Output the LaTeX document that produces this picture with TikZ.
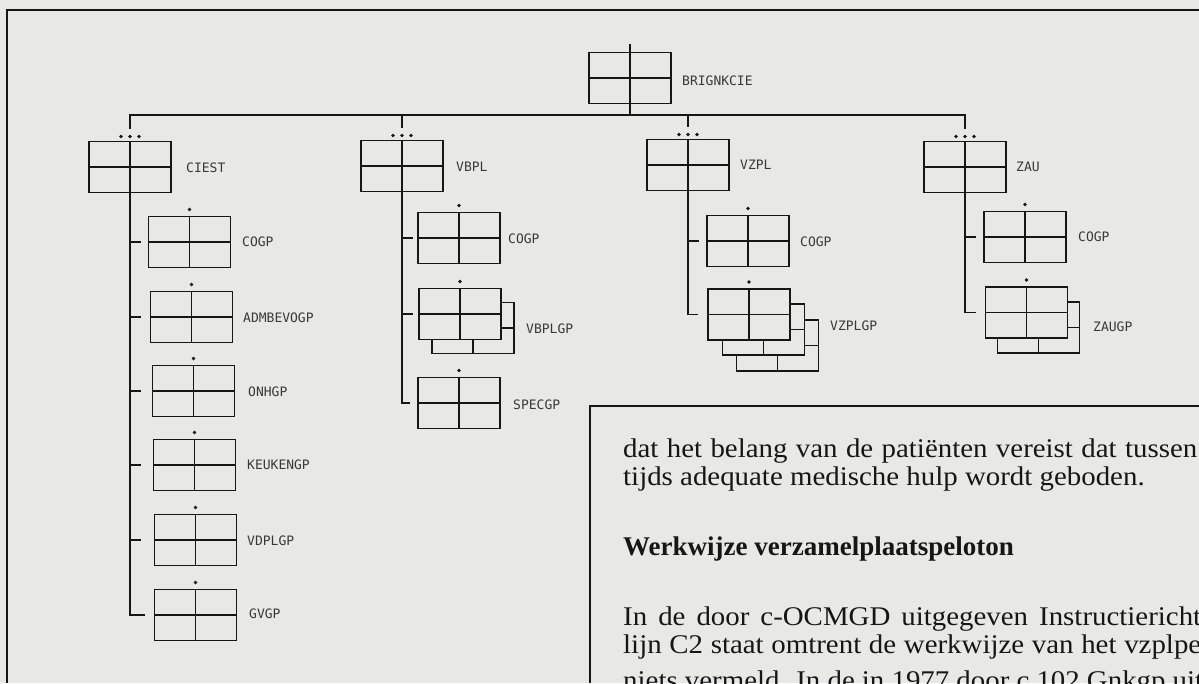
\documentclass[tikz,border=0pt]{standalone}
\usepackage{fontspec}
\setmainfont{Liberation Serif}
\newfontfamily\bodyfont[FakeStretch=1.07]{Liberation Serif}
\newfontfamily\lblfont{DejaVu Sans Mono}
\definecolor{bgc}{RGB}{232,232,230}
\definecolor{ink}{RGB}{22,22,22}
\begin{document}
\begin{tikzpicture}[x=1pt,y=-1pt,
  line/.style={draw=ink, line width=1.8pt},
  orgbox/.style={draw=ink, line width=1.8pt, fill=bgc, minimum width=82pt, minimum height=51pt,
    inner sep=0pt, outer sep=0pt,
    path picture={\draw[ink, line width=1.8pt]
      (path picture bounding box.north) -- (path picture bounding box.south)
      (path picture bounding box.west) -- (path picture bounding box.east);}},
  lbl/.style={anchor=west, inner sep=0pt, font=\lblfont\fontsize{13}{13}\selectfont, text=ink!85},
  body/.style={anchor=base west, inner sep=0pt, font=\bodyfont\fontsize{27}{29}\selectfont, text=ink}]
\useasboundingbox (0,0) rectangle (1199,683);
\fill[bgc] (0,0) rectangle (1199,683);
% frames
\draw[line] (7,683) -- (7,10) -- (1199,10);
\draw[line] (590,683) -- (590,406) -- (1199,406);
% boxes
\node[orgbox] (brig) at (630,78) {};
\node[orgbox] (ciest) at (130,167) {};
\node[orgbox] (cogpA) at (189.5,242) {};
\node[orgbox] (admbev) at (191.5,317) {};
\node[orgbox] (onhgp) at (193.5,391) {};
\node[orgbox] (keuken) at (194.5,465) {};
\node[orgbox] (vdplgp) at (195.5,540) {};
\node[orgbox] (gvgp) at (195.5,615) {};
\node[orgbox] (vbpl) at (402,166) {};
\node[orgbox] (cogpB) at (459,238) {};
\node[orgbox] (vbplgpB) at (473,328) {};
\node[orgbox] (vbplgp) at (460,314) {};
\node[orgbox] (specgp) at (459,403) {};
\node[orgbox] (vzpl) at (688,165) {};
\node[orgbox] (cogpC) at (748,241) {};
\node[orgbox] (vzplgpC) at (777.5,345.5) {};
\node[orgbox] (vzplgpB) at (763.5,329.5) {};
\node[orgbox] (vzplgp) at (749,314.5) {};
\node[orgbox] (zau) at (965,167) {};
\node[orgbox] (cogpD) at (1025,237) {};
\node[orgbox] (zaugpB) at (1038.5,327.5) {};
\node[orgbox] (zaugp) at (1026.5,312.5) {};
% bus
\coordinate (busy) at (0,115);
\draw[line] ([shift={(0,-13)}]ciest.north) -- (ciest.north |- busy) -- (zau.north |- busy) -- ([shift={(0,-13)}]zau.north);
\draw[line] (vbpl.north |- busy) -- ([shift={(0,-13)}]vbpl.north);
\draw[line] (vzpl.north |- busy) -- ([shift={(0,-13)}]vzpl.north);
\draw[line] ([shift={(0,-9)}]brig.north) -- (brig.north);
\draw[line] (brig.south) -- (brig.south |- busy);
% dots
\foreach \n in {ciest,vbpl,vzpl,zau}
  \foreach \dx in {-9,0,9}
    \fill[ink] ([shift={(\dx,-5)}]\n.north) circle (1.8);
\foreach \n in {cogpA,admbev,onhgp,keuken,vdplgp,gvgp,cogpB,vbplgp,specgp,cogpC,vzplgp,cogpD,zaugp}
  \fill[ink] ([shift={(0,-7)}]\n.north) circle (1.8);
% trunks
\draw[line] (ciest.south) |- ([shift={(-10,0)}]gvgp.west);
\foreach \n in {cogpA,admbev,onhgp,keuken,vdplgp}
  \draw[line] (ciest.south |- \n.west) -- ++(11,0);
\draw[line] (vbpl.south) |- ([shift={(-8,0)}]specgp.west);
\foreach \n in {cogpB,vbplgp}
  \draw[line] (vbpl.south |- \n.west) -- ++(11,0);
\draw[line] (vzpl.south) |- ([shift={(-10,0)}]vzplgp.west);
\draw[line] (vzpl.south |- cogpC.west) -- ++(11,0);
\draw[line] (zau.south) |- ([shift={(-10,0)}]zaugp.west);
\draw[line] (zau.south |- cogpD.west) -- ++(11,0);
% labels
\node[lbl] (t-brig) at (682,81) {BRIGNKCIE};
\node[lbl] (t-ciest) at (186,168) {CIEST};
\node[lbl] (t-cogpA) at (242,242) {COGP};
\node[lbl] (t-admbev) at (243,318) {ADMBEVOGP};
\node[lbl] (t-onhgp) at (248,392) {ONHGP};
\node[lbl] (t-keuken) at (247,465) {KEUKENGP};
\node[lbl] (t-vdplgp) at (247,541) {VDPLGP};
\node[lbl] (t-gvgp) at (249,614) {GVGP};
\node[lbl] (t-vbpl) at (456,167) {VBPL};
\node[lbl] (t-cogpB) at (508,239) {COGP};
\node[lbl] (t-vbplgp) at (526,329) {VBPLGP};
\node[lbl] (t-specgp) at (513,405) {SPECGP};
\node[lbl] (t-vzpl) at (740,165) {VZPL};
\node[lbl] (t-cogpC) at (800,242) {COGP};
\node[lbl] (t-vzplgp) at (830,326) {VZPLGP};
\node[lbl] (t-zau) at (1016,167) {ZAU};
\node[lbl] (t-cogpD) at (1078,237) {COGP};
\node[lbl] (t-zaugp) at (1093,327) {ZAUGP};
% body text
\begin{scope}
\clip (0,0) rectangle (1199,683);
\node[body] (p1) at (623,457) {\makebox[574pt][s]{dat het belang van de patiënten vereist dat tussen}};
\node[body] (p2) at (623,485) {tijds adequate medische hulp wordt geboden.};
\node[body, font=\rmfamily\bfseries\fontsize{27}{29}\selectfont] (p3) at (623,555) {Werkwijze verzamelplaatspeloton};
\node[body] (p4) at (623,625) {\makebox[578pt][s]{In de door c-OCMGD uitgegeven Instructiericht}};
\node[body] (p5) at (623,653) {\makebox[578pt][s]{lijn C2 staat omtrent de werkwijze van het vzplpe}};
\node[body] (p6) at (623,689) {\makebox[580pt][s]{niets vermeld. In de in 1977 door c 102 Gnkgp uit}};
\end{scope}
\end{tikzpicture}
\end{document}
